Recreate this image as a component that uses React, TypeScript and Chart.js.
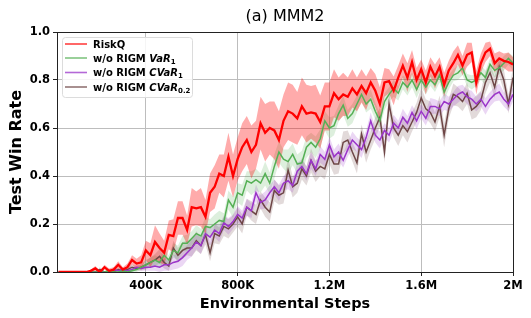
import React, { useEffect, useRef } from "react";
import { Chart, registerables } from "chart.js";

Chart.register(...registerables);

const STEP = 20000;
const X_MIN = 13000;
const X_MAX = 2000000;
const X_TICKS = [400000, 800000, 1200000, 1600000, 2000000];
const X_TICK_LABELS = ["400K", "800K", "1.2M", "1.6M", "2M"];
const Y_TICKS = [0, 0.2, 0.4, 0.6, 0.8, 1.0];

const TITLE = "(a) MMM2";
const X_TITLE = "Environmental Steps";
const Y_TITLE = "Test Win Rate";

const RISKQ = [
  0, 0, 0, 0, 0, 0, 0, 0.005, 0.015, 0,
  0.02, 0.005, 0.01, 0.03, 0.01, 0.02, 0.05, 0.035, 0.04, 0.09,
  0.07, 0.125, 0.10, 0.08, 0.155, 0.15, 0.225, 0.225, 0.175, 0.27,
  0.265, 0.27, 0.23, 0.33, 0.355, 0.41, 0.40, 0.48, 0.40, 0.47,
  0.52, 0.55, 0.50, 0.53, 0.62, 0.58, 0.60, 0.59, 0.55, 0.63,
  0.67, 0.66, 0.64, 0.69, 0.66, 0.665, 0.66, 0.625, 0.69, 0.69,
  0.745, 0.72, 0.74, 0.73, 0.765, 0.74, 0.775, 0.745, 0.79, 0.755,
  0.70, 0.79, 0.795, 0.755, 0.81, 0.86, 0.81, 0.875, 0.80, 0.845,
  0.79, 0.855, 0.815, 0.855, 0.78, 0.84, 0.87, 0.905, 0.86, 0.905,
  0.915, 0.79, 0.87, 0.915, 0.93, 0.87, 0.89, 0.88, 0.875, 0.865,
];
const RISKQ_STD = [
  0, 0, 0, 0, 0, 0, 0, 0.005, 0.01, 0.005,
  0.01, 0.01, 0.01, 0.015, 0.01, 0.015, 0.02, 0.02, 0.03, 0.04,
  0.05, 0.07, 0.06, 0.05, 0.06, 0.07, 0.07, 0.07, 0.06, 0.08,
  0.07, 0.08, 0.07, 0.08, 0.09, 0.08, 0.09, 0.1, 0.09, 0.09,
  0.1, 0.1, 0.11, 0.1, 0.11, 0.12, 0.11, 0.12, 0.12, 0.11,
  0.12, 0.12, 0.11, 0.12, 0.12, 0.11, 0.12, 0.11, 0.1, 0.1,
  0.1, 0.09, 0.09, 0.08, 0.08, 0.07, 0.07, 0.07, 0.06, 0.07,
  0.07, 0.06, 0.05, 0.06, 0.05, 0.05, 0.06, 0.05, 0.05, 0.04,
  0.05, 0.04, 0.05, 0.04, 0.05, 0.04, 0.05, 0.04, 0.04, 0.05,
  0.04, 0.05, 0.04, 0.04, 0.03, 0.04, 0.03, 0.03, 0.04, 0.03,
];

const VAR1 = [
  0, 0, 0, 0, 0, 0, 0, 0, 0, 0,
  0, 0.005, 0, 0, 0.005, 0, 0.005, 0.01, 0.02, 0.03,
  0.04, 0.05, 0.04, 0.07, 0.05, 0.09, 0.08, 0.12, 0.12, 0.14,
  0.16, 0.15, 0.19, 0.185, 0.20, 0.215, 0.21, 0.30, 0.27, 0.33,
  0.32, 0.38, 0.37, 0.385, 0.37, 0.41, 0.37, 0.44, 0.50, 0.47,
  0.46, 0.49, 0.45, 0.455, 0.52, 0.54, 0.52, 0.555, 0.63, 0.60,
  0.61, 0.66, 0.695, 0.64, 0.66, 0.70, 0.74, 0.70, 0.72, 0.67,
  0.63, 0.71, 0.74, 0.765, 0.745, 0.79, 0.77, 0.80, 0.76, 0.80,
  0.77, 0.80, 0.78, 0.82, 0.75, 0.79, 0.82, 0.83, 0.85, 0.80,
  0.79, 0.80, 0.83, 0.81, 0.865, 0.84, 0.85, 0.87, 0.89, 0.87,
];
const VAR1_STD = [
  0, 0, 0, 0, 0, 0, 0, 0, 0, 0,
  0, 0.005, 0, 0, 0.005, 0, 0.005, 0.01, 0.01, 0.015,
  0.02, 0.02, 0.02, 0.025, 0.02, 0.03, 0.03, 0.03, 0.035, 0.03,
  0.035, 0.03, 0.04, 0.035, 0.04, 0.04, 0.035, 0.04, 0.045, 0.04,
  0.045, 0.04, 0.05, 0.045, 0.04, 0.05, 0.045, 0.05, 0.045, 0.04,
  0.05, 0.045, 0.04, 0.05, 0.045, 0.04, 0.045, 0.04, 0.04, 0.045,
  0.04, 0.035, 0.04, 0.035, 0.04, 0.035, 0.03, 0.035, 0.04, 0.035,
  0.03, 0.035, 0.03, 0.035, 0.03, 0.03, 0.035, 0.03, 0.035, 0.03,
  0.03, 0.025, 0.03, 0.03, 0.035, 0.03, 0.025, 0.03, 0.03, 0.025,
  0.03, 0.025, 0.03, 0.03, 0.025, 0.03, 0.025, 0.03, 0.025, 0.03,
];

const CVAR1 = [
  0, 0, 0, 0, 0, 0, 0, 0, 0, 0,
  0, 0, 0.01, 0.005, 0.01, 0.005, 0.01, 0.02, 0.015, 0.02,
  0.02, 0.025, 0.02, 0.03, 0.03, 0.04, 0.045, 0.06, 0.08, 0.10,
  0.125, 0.11, 0.16, 0.145, 0.175, 0.16, 0.205, 0.19, 0.21, 0.24,
  0.225, 0.27, 0.255, 0.33, 0.29, 0.30, 0.33, 0.355, 0.33, 0.37,
  0.38, 0.36, 0.42, 0.44, 0.41, 0.465, 0.43, 0.49, 0.47, 0.53,
  0.48, 0.50, 0.465, 0.51, 0.55, 0.53, 0.51, 0.56, 0.63, 0.57,
  0.55, 0.59, 0.57, 0.62, 0.60, 0.645, 0.62, 0.665, 0.63, 0.67,
  0.64, 0.69, 0.69, 0.68, 0.71, 0.70, 0.72, 0.74, 0.75, 0.73,
  0.72, 0.70, 0.72, 0.69, 0.72, 0.74, 0.75, 0.72, 0.70, 0.74,
];
const CVAR1_STD = [
  0, 0, 0, 0, 0, 0, 0, 0, 0, 0,
  0, 0, 0.01, 0.005, 0.01, 0.005, 0.01, 0.01, 0.01, 0.015,
  0.015, 0.02, 0.02, 0.025, 0.025, 0.03, 0.03, 0.035, 0.03, 0.035,
  0.03, 0.035, 0.03, 0.035, 0.03, 0.035, 0.03, 0.035, 0.03, 0.035,
  0.03, 0.035, 0.03, 0.035, 0.03, 0.035, 0.03, 0.03, 0.035, 0.03,
  0.035, 0.03, 0.035, 0.03, 0.03, 0.035, 0.03, 0.035, 0.03, 0.035,
  0.03, 0.035, 0.03, 0.03, 0.035, 0.03, 0.035, 0.03, 0.035, 0.03,
  0.035, 0.03, 0.03, 0.035, 0.03, 0.035, 0.03, 0.03, 0.035, 0.03,
  0.03, 0.035, 0.03, 0.03, 0.035, 0.03, 0.03, 0.035, 0.03, 0.03,
  0.035, 0.03, 0.03, 0.035, 0.03, 0.03, 0.035, 0.03, 0.03, 0.03,
];

const CVAR02 = [
  0, 0, 0, 0, 0, 0, 0, 0, 0, 0.01,
  0, 0.005, 0, 0.01, 0.005, 0.01, 0.02, 0.015, 0.02, 0.03,
  0.04, 0.05, 0.065, 0.04, 0.025, 0.10, 0.07, 0.09, 0.10, 0.10,
  0.13, 0.11, 0.155, 0.08, 0.16, 0.15, 0.19, 0.18, 0.20, 0.23,
  0.20, 0.27, 0.255, 0.24, 0.30, 0.27, 0.25, 0.34, 0.32, 0.33,
  0.425, 0.355, 0.37, 0.43, 0.40, 0.465, 0.42, 0.44, 0.43, 0.49,
  0.45, 0.45, 0.54, 0.55, 0.50, 0.455, 0.575, 0.50, 0.55, 0.60,
  0.645, 0.50, 0.70, 0.60, 0.57, 0.61, 0.585, 0.625, 0.665, 0.725,
  0.68, 0.665, 0.625, 0.69, 0.57, 0.68, 0.74, 0.73, 0.71, 0.745,
  0.675, 0.69, 0.715, 0.79, 0.83, 0.77, 0.855, 0.80, 0.70, 0.81,
];
const CVAR02_STD = [
  0, 0, 0, 0, 0, 0, 0, 0, 0, 0.01,
  0, 0.005, 0, 0.01, 0.005, 0.01, 0.01, 0.01, 0.015, 0.02,
  0.02, 0.025, 0.03, 0.025, 0.02, 0.03, 0.03, 0.035, 0.03, 0.035,
  0.04, 0.035, 0.04, 0.035, 0.04, 0.035, 0.04, 0.04, 0.035, 0.04,
  0.04, 0.035, 0.04, 0.04, 0.035, 0.04, 0.04, 0.045, 0.04, 0.045,
  0.05, 0.045, 0.04, 0.045, 0.04, 0.05, 0.045, 0.04, 0.045, 0.04,
  0.045, 0.04, 0.045, 0.04, 0.04, 0.045, 0.04, 0.045, 0.04, 0.045,
  0.04, 0.045, 0.05, 0.04, 0.045, 0.04, 0.045, 0.04, 0.04, 0.045,
  0.04, 0.045, 0.04, 0.045, 0.05, 0.04, 0.045, 0.04, 0.04, 0.045,
  0.04, 0.045, 0.04, 0.045, 0.04, 0.045, 0.04, 0.045, 0.04, 0.045,
];

const LABELS = ["RiskQ", "w/o RIGM VaR1", "w/o RIGM CVaR1", "w/o RIGM CVaR0.2"];
const COLORS = ["#ff0000", "#55b055", "#9b35c9", "#6e4646"];
const BAND_COLORS = [
  "rgba(255,0,0,0.33)",
  "rgba(85,176,85,0.2)",
  "rgba(155,53,201,0.2)",
  "rgba(110,70,70,0.2)",
];
const LINE_WIDTHS = [2.3, 1.5, 1.5, 1.5];

type Part = { t: string; it?: boolean; sub?: boolean };
const LEGEND_PARTS: Part[][] = [
  [{ t: "RiskQ" }],
  [{ t: "w/o RIGM " }, { t: "VaR", it: true }, { t: "1", sub: true }],
  [{ t: "w/o RIGM " }, { t: "CVaR", it: true }, { t: "1", sub: true }],
  [{ t: "w/o RIGM " }, { t: "CVaR", it: true }, { t: "0.2", sub: true }],
];

const FONT = "'DejaVu Sans', sans-serif";

export default function App() {
  const ref = useRef<HTMLCanvasElement>(null);

  useEffect(() => {
    const canvas = ref.current;
    if (!canvas) return;
    const means = [RISKQ, VAR1, CVAR1, CVAR02];
    const stds = [RISKQ_STD, VAR1_STD, CVAR1_STD, CVAR02_STD];
    const pts = (arr: number[], sd: number[] | null, sign: number) =>
      arr.map((v, i) => ({ x: (i + 1) * STEP, y: sd ? v + sign * sd[i] : v }));

    const datasets: any[] = [];
    means.forEach((m, k) => {
      datasets.push({
        label: LABELS[k],
        data: pts(m, null, 0),
        borderColor: COLORS[k],
        borderWidth: LINE_WIDTHS[k],
        pointRadius: 0,
        tension: 0,
        fill: false,
      });
    });
    means.forEach((m, k) => {
      const lowerIndex = datasets.length;
      datasets.push({
        label: LABELS[k] + " lower",
        data: pts(m, stds[k], -1),
        borderWidth: 0,
        borderColor: "rgba(0,0,0,0)",
        pointRadius: 0,
        tension: 0,
        fill: false,
      });
      datasets.push({
        label: LABELS[k] + " upper",
        data: pts(m, stds[k], 1),
        borderWidth: 0,
        borderColor: "rgba(0,0,0,0)",
        backgroundColor: BAND_COLORS[k],
        pointRadius: 0,
        tension: 0,
        fill: lowerIndex,
      });
    });

    const decor = {
      id: "decor",
      afterDraw(chart: any) {
        const ctx = chart.ctx as CanvasRenderingContext2D;
        const a = chart.chartArea;
        ctx.save();
        ctx.strokeStyle = "#222";
        ctx.lineWidth = 1;
        ctx.strokeRect(Math.round(a.left) + 0.5, Math.round(a.top) + 0.5, Math.round(a.right - a.left), Math.round(a.bottom - a.top));
        ctx.fillStyle = "#000";
        ctx.textAlign = "center";
        ctx.textBaseline = "alphabetic";
        ctx.font = `16px ${FONT}`;
        ctx.fillText(TITLE, (a.left + a.right) / 2, 21);
        ctx.font = `bold 14.5px ${FONT}`;
        ctx.fillText(X_TITLE, (a.left + a.right) / 2, 308);
        ctx.save();
        ctx.translate(21, (a.top + a.bottom) / 2);
        ctx.rotate(-Math.PI / 2);
        ctx.font = `bold 16px ${FONT}`;
        ctx.fillText(Y_TITLE, 0, 0);
        ctx.restore();
        const lx = 62, ly = 37, lw = 130, lh = 60;
        ctx.fillStyle = "rgba(255,255,255,0.85)";
        ctx.strokeStyle = "#dcdcdc";
        ctx.lineWidth = 1;
        ctx.beginPath();
        if ((ctx as any).roundRect) (ctx as any).roundRect(lx + 0.5, ly + 0.5, lw, lh, 3);
        else ctx.rect(lx + 0.5, ly + 0.5, lw, lh);
        ctx.fill();
        ctx.stroke();
        const rows = [44, 58, 72.5, 87];
        LEGEND_PARTS.forEach((parts, k) => {
          const y = rows[k];
          ctx.save();
          ctx.globalAlpha = 0.75;
          ctx.strokeStyle = COLORS[k];
          ctx.lineWidth = 1.6;
          ctx.beginPath();
          ctx.moveTo(65, y);
          ctx.lineTo(87, y);
          ctx.stroke();
          ctx.restore();
          let x = 93;
          ctx.fillStyle = "#000";
          ctx.textAlign = "left";
          ctx.textBaseline = "alphabetic";
          parts.forEach((p) => {
            if (p.sub) {
              ctx.font = `bold 7px ${FONT}`;
              ctx.fillText(p.t, x, y + 5.5);
            } else {
              ctx.font = `${p.it ? "italic " : ""}bold 10px ${FONT}`;
              ctx.fillText(p.t, x, y + 3.6);
            }
            x += ctx.measureText(p.t).width;
          });
        });
        ctx.restore();
      },
    };

    const chart = new Chart(canvas, {
      type: "line",
      data: { datasets },
      options: {
        animation: false,
        responsive: false,
        maintainAspectRatio: false,
        layout: { padding: { top: 32, right: 18, left: 0, bottom: 0 } },
        plugins: {
          legend: { display: false },
          title: { display: false },
          tooltip: { enabled: false },
        },
        scales: {
          x: {
            type: "linear",
            min: X_MIN,
            max: X_MAX,
            afterBuildTicks: (s: any) => {
              s.ticks = X_TICKS.map((v) => ({ value: v }));
            },
            afterFit: (s: any) => {
              s.height = 46;
            },
            ticks: {
              autoSkip: false,
              maxRotation: 0,
              padding: 3,
              color: "#000",
              font: { family: FONT, size: 11.5, weight: "bold" },
              callback: (v: any) => {
                const idx = X_TICKS.indexOf(Number(v));
                return idx >= 0 ? X_TICK_LABELS[idx] : "";
              },
            },
            grid: { color: "#bdbdbd", lineWidth: 1, tickColor: "#222", tickLength: 4 },
            border: { display: false },
          },
          y: {
            type: "linear",
            min: 0,
            max: 1,
            afterBuildTicks: (s: any) => {
              s.ticks = Y_TICKS.map((v) => ({ value: v }));
            },
            afterFit: (s: any) => {
              s.width = 57;
            },
            ticks: {
              padding: 3,
              color: "#000",
              font: { family: FONT, size: 11.5, weight: "bold" },
              callback: (v: any) => Number(v).toFixed(1),
            },
            grid: { color: "#bdbdbd", lineWidth: 1, tickColor: "#222", tickLength: 4 },
            border: { display: false },
          },
        },
      } as any,
      plugins: [decor],
    });
    return () => chart.destroy();
  }, []);

  return (
    <div style={{ position: "fixed", left: 0, top: 0, width: 531, height: 318, background: "#fff" }}>
      <canvas ref={ref} width={531} height={318} style={{ display: "block", width: 531, height: 318 }} />
    </div>
  );
}
